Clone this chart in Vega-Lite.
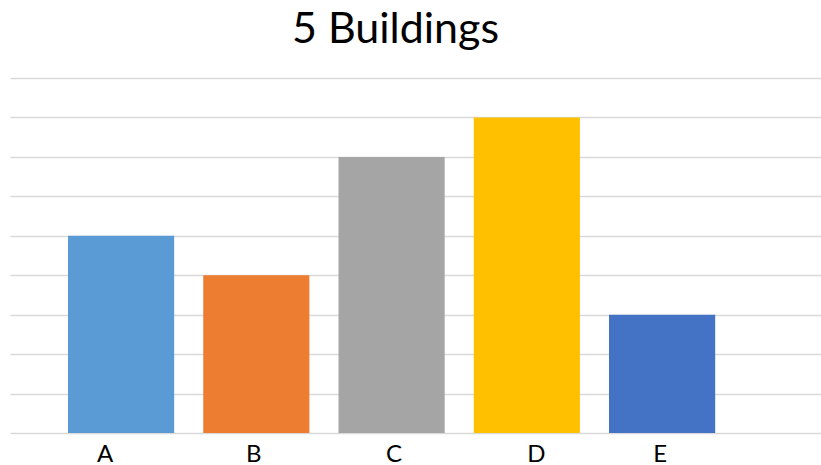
{
  "$schema": "https://vega.github.io/schema/vega-lite/v6.json",
  "autosize": "none",
  "width": 811,
  "height": 355,
  "padding": {"left": 10, "top": 78, "right": 0, "bottom": 32},
  "background": "white",
  "title": {
    "text": "5 Buildings",
    "font": "Lato",
    "fontSize": 43,
    "fontWeight": "normal",
    "color": "#000000",
    "anchor": "middle",
    "dx": -20,
    "offset": 26
  },
  "data": {
    "values": [
      {"building": "A", "value": 5},
      {"building": "B", "value": 4},
      {"building": "C", "value": 7},
      {"building": "D", "value": 8},
      {"building": "E", "value": 3}
    ]
  },
  "mark": {"type": "bar"},
  "encoding": {
    "x": {
      "field": "building",
      "type": "nominal",
      "sort": null,
      "scale": {"paddingInner": 0.215, "paddingOuter": 0.6055, "align": 0.354},
      "axis": {
        "title": null,
        "labelAngle": 0,
        "domain": false,
        "ticks": false,
        "labelFont": "Lato",
        "labelFontSize": 24,
        "labelColor": "#000000",
        "labelPadding": 9,
        "labelOffset": {"expr": "datum.value == 'A' ? -16 : datum.value == 'B' ? -2.5 : datum.value == 'C' ? 2.5 : datum.value == 'D' ? 9.5 : -2"}
      }
    },
    "y": {
      "field": "value",
      "type": "quantitative",
      "scale": {"domain": [0, 9], "nice": false},
      "axis": {
        "title": null,
        "labels": false,
        "ticks": false,
        "domain": false,
        "values": [0, 1, 2, 3, 4, 5, 6, 7, 8, 9],
        "grid": true,
        "gridColor": "#D9D9D9",
        "gridWidth": 1.5
      }
    },
    "color": {
      "field": "building",
      "type": "nominal",
      "scale": {
        "domain": ["A", "B", "C", "D", "E"],
        "range": ["#5B9BD5", "#ED7D31", "#A5A5A5", "#FFC000", "#4472C4"]
      },
      "legend": null
    }
  },
  "config": {"view": {"stroke": null}}
}
